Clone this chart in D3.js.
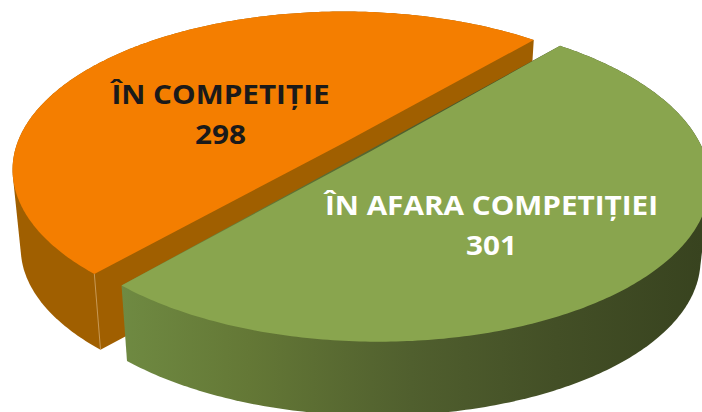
<!DOCTYPE html>
<html>
<head>
<meta charset="utf-8">
<script src="https://cdn.jsdelivr.net/npm/d3@7"></script>
<style>
html,body{margin:0;padding:0;background:#fff;overflow:hidden}
svg{display:block}
text{font-family:"Open Sans","Noto Sans",sans-serif;font-weight:700;text-anchor:middle}
</style>
</head>
<body>
<svg id="c" width="702" height="412"></svg>
<script>
const categories = ["ÎN COMPETIȚIE", "ÎN AFARA COMPETIȚIEI"];
const values = [298, 301];
const topColors = ["#F47E00", "#89A54E"];
const sideColors = ["#A05F00", null];
const labelColors = ["#1A1A1A", "#FFFFFF"];
const labelX = [220.5, 491.5];
const labelY = [104, 215];
const labelGap = 40;
const labelSize = 27;
const labelStretch = 1.1;

const W = 702, H = 412;
const cx = 340, cy = 143, R = 324, Ry = 152.4, k = 0.172;
const depth = 79, depthScale = 0.975;
const explode = [[0.014, -0.003], [0.097, 0.05]];
const radius = [1.01, 1.015];

const pie = d3.pie().sort(null).startAngle(221.9 * Math.PI / 180).endAngle((221.9 + 360) * Math.PI / 180);
const arcs = pie(values);

const sx = d3.scaleLinear().domain([-1, 1]).range([cx - R, cx + R]);
const sy = d3.scaleLinear().domain([-1, 1]).range([cy - Ry, cy + Ry]);

function project(u, v, bottom) {
  const w = 1 - k * v;
  let x = sx(u / w), y = sy(v / w);
  if (bottom) {
    x = cx + (x - cx) * depthScale;
    y = cy + (y - cy) * depthScale + depth;
  }
  return [x, y];
}
const rimPoint = (a, i, bottom) => project(radius[i] * Math.sin(a) + explode[i][0], -radius[i] * Math.cos(a) + explode[i][1], bottom);
const hub = (i, bottom) => project(explode[i][0], explode[i][1], bottom);
const rim = (d, i, bottom) => d3.range(0, 241).map(j => rimPoint(d.startAngle + (d.endAngle - d.startAngle) * j / 240, i, bottom));
const line = d3.line();

const svg = d3.select("#c");
const defs = svg.append("defs");
const grad = defs.append("linearGradient").attr("id", "greenSide")
  .attr("gradientUnits", "userSpaceOnUse").attr("x1", 120).attr("x2", 702).attr("y1", 0).attr("y2", 0);
[[0, "#6F8A42"], [0.22, "#647836"], [0.5, "#505F2E"], [0.75, "#434F26"], [1, "#38431F"]]
  .forEach(s => grad.append("stop").attr("offset", s[0]).attr("stop-color", s[1]));
sideColors[1] = "url(#greenSide)";

arcs.forEach((d, i) => {
  const top = rim(d, i, false), bot = rim(d, i, true);
  const g = svg.append("g");
  const hull = d3.polygonHull(top.concat(bot));
  g.append("path").attr("d", line(hull) + "Z").attr("fill", sideColors[i]);
  if (i === 0) {
    g.append("path").attr("d", line([top[0], bot[0]])).attr("stroke", "#D8B27A").attr("stroke-width", 0.7).attr("fill", "none");
  }
  g.append("path").attr("d", line([hub(i, false)].concat(top)) + "Z").attr("fill", topColors[i]);
});

categories.forEach((c, i) => {
  [c, values[i]].forEach((t, j) => {
    svg.append("text")
      .attr("transform", `translate(${labelX[i]},${labelY[i] + j * labelGap}) scale(${labelStretch},1)`)
      .attr("font-size", labelSize).attr("fill", labelColors[i]).text(t);
  });
});
</script>
</body>
</html>
